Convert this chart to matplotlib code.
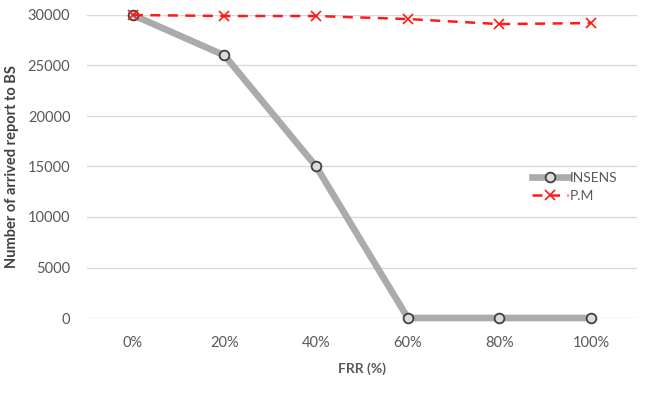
import matplotlib
matplotlib.use("Agg")
import matplotlib.pyplot as plt

categories = ["0%", "20%", "40%", "60%", "80%", "100%"]
insens = [30000, 26000, 15000, 0, 0, 0]
pm = [30000, 29900, 29900, 29600, 29100, 29200]
yticks = [0, 5000, 10000, 15000, 20000, 25000, 30000]

plt.rcParams['font.family'] = ['Lato', 'DejaVu Sans']

fig = plt.figure(figsize=(6.47, 3.93), dpi=100)
ax = fig.add_axes([87/647, 1-318/393, 550/647, 303/393])
x = list(range(len(categories)))

ax.plot(x, insens, color='#ababab', lw=4.8, marker='o', ms=7,
        mfc='#dcdcdc', mec='#404040', mew=1.3, label='INSENS', clip_on=False, zorder=3)
ax.plot(x, pm, color='#ff1a1a', lw=1.8, ls=(0, (4, 3)), marker='x', ms=7,
        mec='#ff1a1a', mew=1.2, label='P.M', clip_on=False, zorder=4)

ax.set_xlim(-0.5, 5.5)
ax.set_ylim(0, 30000)
ax.set_xticks(x)
ax.set_xticklabels(categories)
ax.set_yticks(yticks)
ax.set_yticklabels([str(v) for v in yticks])
ax.grid(axis='y', color='#d9d9d9', lw=1)
ax.set_axisbelow(True)
for s in ax.spines.values():
    s.set_visible(False)
ax.tick_params(length=0, colors='#595959', labelsize=10.5)
ax.tick_params(axis='x', pad=13)
ax.tick_params(axis='y', pad=12)

ax.set_xlabel('FRR (%)', color='#595959', fontsize=10, fontweight='bold', labelpad=9)
ax.set_ylabel('Number of arrived report to BS', color='#404040', fontsize=10.5,
              fontweight='bold', labelpad=6)

leg = ax.legend(loc='center left', bbox_to_anchor=(525/647, 1-187/393),
                bbox_transform=fig.transFigure, frameon=False, fontsize=10,
                handlelength=2.6, handletextpad=0.15, labelspacing=0.45,
                borderpad=0, labelcolor='#595959')

fig.savefig('out.png', dpi=100, facecolor='white')
